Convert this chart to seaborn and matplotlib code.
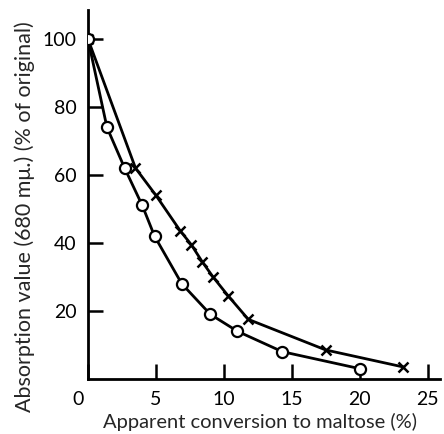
import pandas as pd
import matplotlib
matplotlib.use("Agg")
import matplotlib.pyplot as plt
import matplotlib.transforms as mtransforms
import seaborn as sns

# circles curve
circle_x = [0, 1.4, 2.7, 4.0, 4.9, 6.9, 9.0, 11.0, 14.3, 20.0]
circle_y = [100, 74, 62, 51, 42, 28, 19, 14, 8, 3]

# crosses curve
cross_x = [0, 3.5, 5.0, 6.8, 7.6, 8.4, 9.2, 10.3, 11.8, 17.5, 23.2]
cross_y = [100, 62, 54, 43.5, 39.5, 34.5, 30, 24.5, 17.5, 8.5, 3.5]

x_ticks = [0, 5, 10, 15, 20, 25]
y_ticks = [20, 40, 60, 80, 100]

sns.set_style("ticks")
plt.rcParams["font.family"] = ["Lato", "DejaVu Sans"]

fig = plt.figure(figsize=(4.44, 4.34), dpi=100)
ax = fig.add_axes([0.198, 0.127, 0.793, 0.85])

df_c = pd.DataFrame({"x": circle_x, "y": circle_y})
df_x = pd.DataFrame({"x": cross_x, "y": cross_y})

sns.lineplot(data=df_x, x="x", y="y", ax=ax, color="black", lw=2, sort=False,
             marker="x", markersize=7, mew=1.8, mec="black", zorder=2)
sns.lineplot(data=df_c, x="x", y="y", ax=ax, color="black", lw=2, sort=False,
             marker="o", markersize=8, mfc="white", mec="black", mew=1.6, zorder=3)

ax.set_xlim(0, 25.9)
ax.set_ylim(0, 108.5)
ax.set_xticks(x_ticks)
ax.set_yticks(y_ticks)
ax.tick_params(direction="in", length=11, width=1.8, labelsize=14, colors="black")
ax.tick_params(axis="x", pad=9)
ax.tick_params(axis="y", pad=8)
# shift the "0" label to the left of the corner
lab0 = ax.get_xticklabels()[0]
lab0.set_transform(lab0.get_transform() + mtransforms.ScaledTranslation(-10 / 100, 0, fig.dpi_scale_trans))

for side in ["top", "right"]:
    ax.spines[side].set_visible(False)
for side in ["left", "bottom"]:
    ax.spines[side].set_linewidth(2)
    ax.spines[side].set_color("black")

ax.set_xlabel("")
ax.set_ylabel("")
fig.text(0.586, 0.008, "Apparent conversion to maltose (%)", fontsize=14.5,
         ha="center", va="bottom")
fig.text(0.056, 0.5, "Absorption value (680 m\u03bc.) (% of original)", fontsize=15.5,
         ha="center", va="center", rotation=90)

fig.savefig("out.png", dpi=100)
